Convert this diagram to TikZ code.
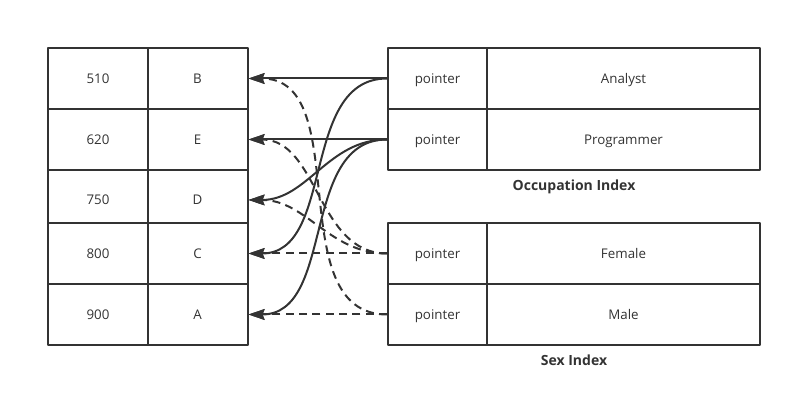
\documentclass[tikz,border=0pt]{standalone}
\usepackage{fontspec}
\setmainfont{Open Sans}
\usepackage{tikz}
\usetikzlibrary{arrows.meta}
\definecolor{ink}{HTML}{333333}
\tikzset{
  every picture/.style={line join=round, >=Stealth},
  cell/.style={draw=ink, line width=1.5pt, inner sep=0pt, minimum height=45.75pt, text height=7pt, text depth=0pt, text=ink, font=\fontsize{10pt}{12pt}\selectfont},
  numcell/.style={cell, minimum width=75pt},
  letcell/.style={cell, minimum width=75pt},
  ptrcell/.style={cell, minimum width=74.25pt},
  valcell/.style={cell, minimum width=204.75pt},
  link/.style={draw=ink, line width=1.5pt, -{Stealth[length=12pt,width=8pt,inset=1.5pt]}},
  dlink/.style={link, dash pattern=on 6pt off 4pt},
  caption/.style={text=ink, text height=7pt, text depth=0pt, font=\fontsize{10.5pt}{12pt}\selectfont\bfseries},
}
\begin{document}
\begin{tikzpicture}[x=0.75pt,y=-0.75pt]
\useasboundingbox (0,0) rectangle (792,409);
% indexed table
\node[numcell] (k1) at (98,78.5) {510};
\node[letcell] (l1) at (197.5,78.5) {B};
\node[numcell] (k2) at (98,139.5) {620};
\node[letcell] (l2) at (197.5,139.5) {E};
\node[numcell,minimum height=39.75pt] (k3) at (98,196.5) {\raisebox{-2.6pt}[0pt][0pt]{750}};
\node[letcell,minimum height=39.75pt] (l3) at (197.5,196.5) {\raisebox{-2.6pt}[0pt][0pt]{D}};
\node[numcell] (k4) at (98,253.5) {800};
\node[letcell] (l4) at (197.5,253.5) {C};
\node[numcell] (k5) at (98,314.5) {900};
\node[letcell] (l5) at (197.5,314.5) {A};
% occupation index
\node[ptrcell] (p1) at (437.5,78.5) {pointer};
\node[valcell] (occ1) at (623.5,78.5) {Analyst};
\node[ptrcell] (p2) at (437.5,139.5) {pointer};
\node[valcell] (occ2) at (623.5,139.5) {Programmer};
\node[caption] (occ) at (574,186) {Occupation Index};
% sex index
\node[ptrcell] (p3) at (437.5,253.5) {pointer};
\node[valcell] (sex1) at (623.5,253.5) {Female};
\node[ptrcell] (p4) at (437.5,314.5) {pointer};
\node[valcell] (sex2) at (623.5,314.5) {Male};
\node[caption] (sex) at (574,361) {Sex Index};
% pointers
\coordinate (d) at ([yshift=-2.6pt]l3.east);
\draw[link] (p1.west) -- (l1.east);
\draw[link] (p1.west) to[out=180,in=0] (l4.east);
\draw[link] (p2.west) -- (l2.east);
\draw[link] (p2.west) to[out=180,in=0] (d);
\draw[link] (p2.west) to[out=180,in=0] (l5.east);
\draw[dlink] (p3.west) -- (l4.east);
\draw[dlink] (p3.west) to[out=180,in=0] (d);
\draw[dlink] (p3.west) to[out=180,in=0] (l2.east);
\draw[dlink] (p4.west) -- (l5.east);
\draw[dlink] (p4.west) to[out=180,in=0] (l1.east);
\end{tikzpicture}
\end{document}
